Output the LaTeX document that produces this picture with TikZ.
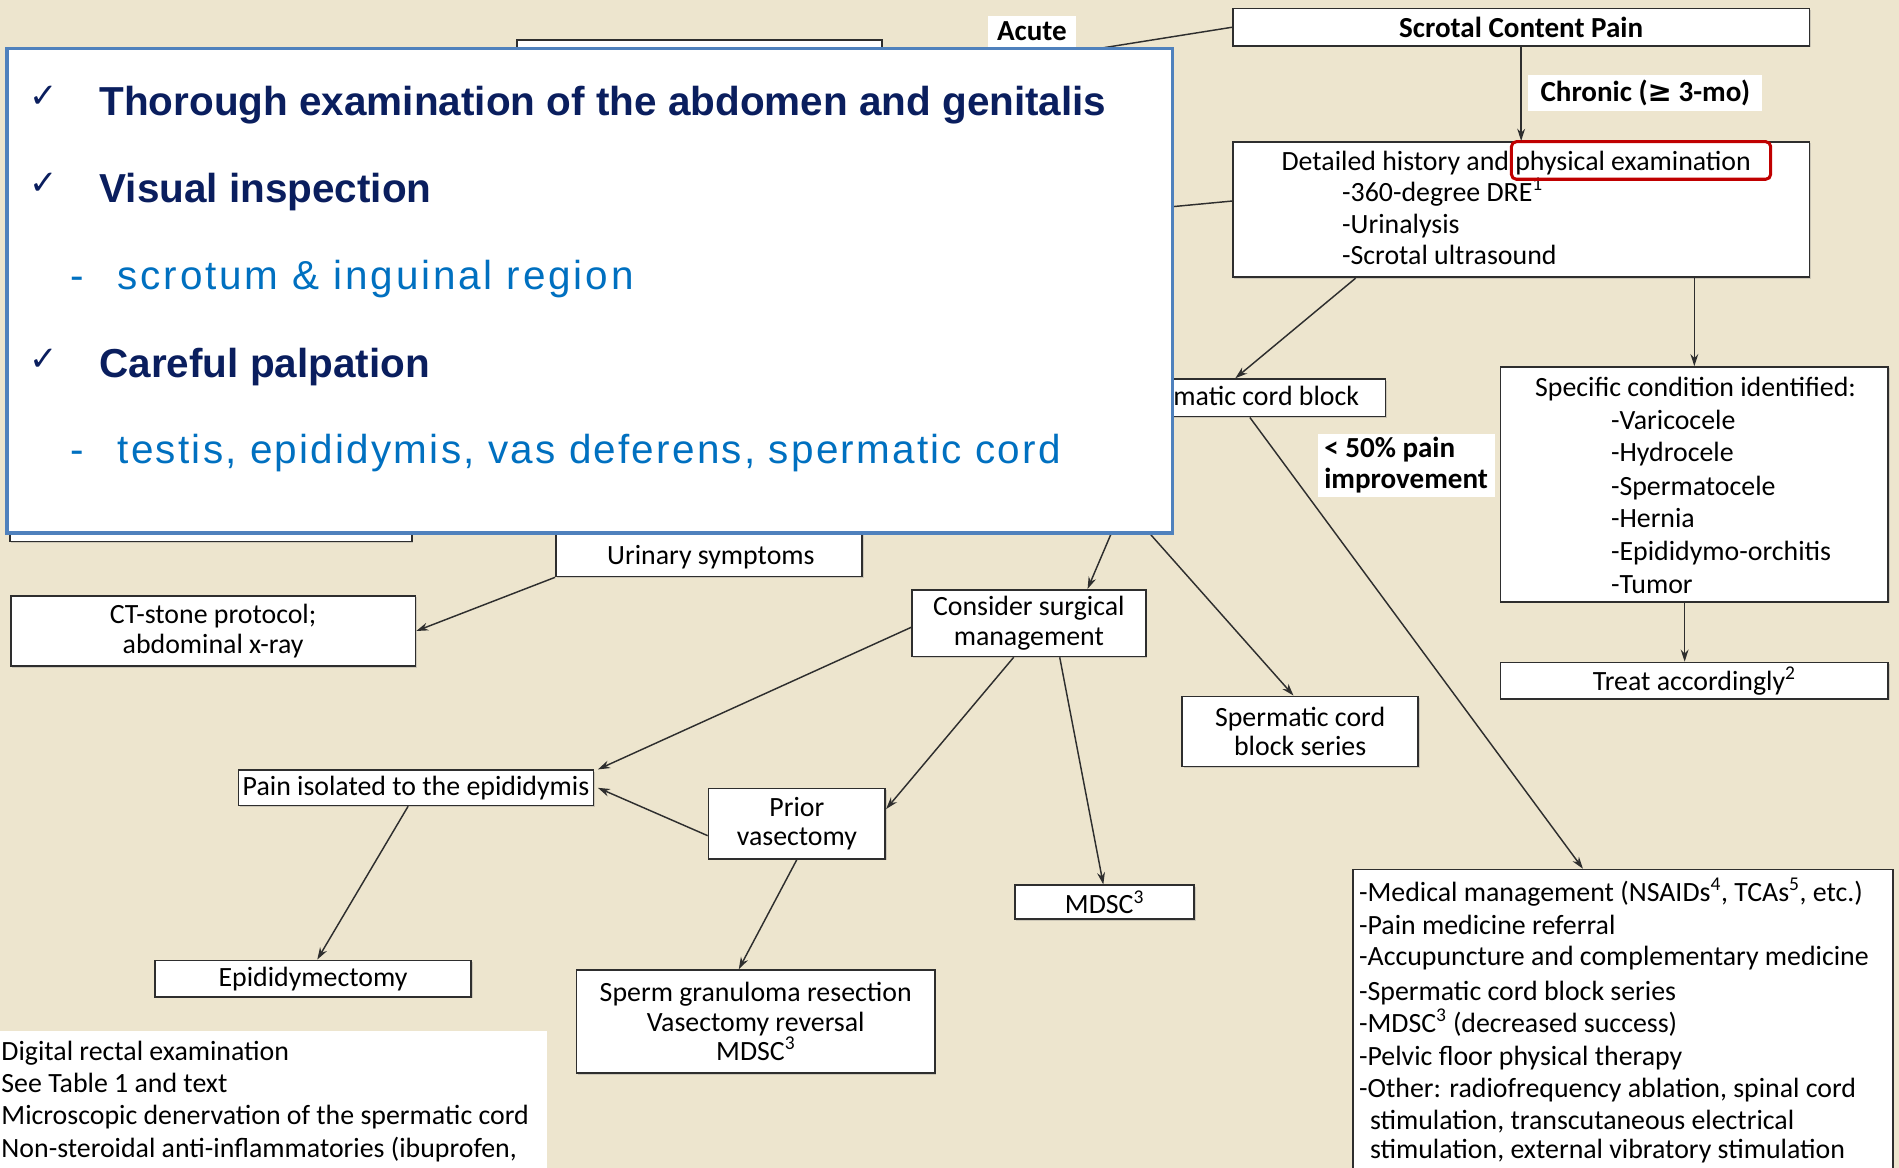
\documentclass[tikz,border=0pt]{standalone}
\usepackage{fontspec}
\setmainfont{Carlito}
\newfontfamily\ovfont{Liberation Sans}
\newfontfamily\ovwide[LetterSpace=7]{Liberation Sans}
\newfontfamily\ovspaced[LetterSpace=5.5]{Liberation Sans}
\newfontfamily\symfont{DejaVu Sans}
\usetikzlibrary{arrows.meta,shadows}
\definecolor{paper}{HTML}{EDE5CE}
\definecolor{edge}{HTML}{2E2E2E}
\definecolor{navy}{HTML}{0A1E5E}
\definecolor{bluetext}{HTML}{0070C0}
\definecolor{frameblue}{HTML}{4F81BD}
\definecolor{markred}{HTML}{C00000}
\newcommand\flowfont{\fontsize{23}{24.5}\selectfont}
\newcommand\tagfont{\fontsize{24}{25}\selectfont\bfseries}
\newcommand\ovbig{\fontsize{33.4}{38}\selectfont}

\begin{document}
\begin{tikzpicture}[x=1pt,y=-1pt,
  box/.style={draw=edge, line width=1.4pt, fill=white, inner sep=0pt, align=center,
    font=\flowfont, drop shadow={shadow xshift=1.2pt, shadow yshift=-1.2pt, opacity=0.3}},
  txt/.style={anchor=mid west, yshift=-6pt, inner sep=0pt, font=\flowfont},
  ctxt/.style={anchor=mid, yshift=-6pt, inner sep=0pt, font=\flowfont},
  tag/.style={fill=white, inner sep=0pt, font=\tagfont},
  arr/.style={draw=edge, line width=1.2pt, -{Stealth[length=10pt,width=6.5pt]}},
  lin/.style={draw=edge, line width=1.2pt},
  chk/.style={anchor=center, inner sep=0pt, text=navy, font=\symfont\fontsize{28}{30}\selectfont},
  ovhead/.style={anchor=base west, inner sep=0pt, text=navy, font=\ovfont\ovbig\bfseries},
  ovsub/.style={anchor=base west, inner sep=0pt, text=bluetext, font=\ovspaced\ovbig},
]
\fill[paper] (0,0) rectangle (1568,964);
\useasboundingbox (0,0) rectangle (1568,964);

% boxes lying under the summary panel
\node[box, minimum width=301pt, minimum height=57pt] (hidtop) at (577.5,61.5) {};
\node[box, minimum width=332pt, minimum height=52pt] (hidleft) at (174,421) {};
\coordinate (hidmid) at (700,196);
\coordinate (hidA) at (922,430);
\coordinate (hidB) at (940,430);

% main flow
\node[box, font=\tagfont, minimum width=476pt, minimum height=31pt] (scp) at (1256,22.5) {Scrotal Content Pain};
\node[box, minimum width=476pt, minimum height=112pt] (det) at (1256,173) {};
\node[txt] (det1) at (1058,132) {Detailed history and physical examination};
\node[txt] (det2) at (1108,158) {-360-degree DRE\textsuperscript{1}};
\node[txt] (det3) at (1108,184) {-Urinalysis};
\node[txt] (det4) at (1108,210) {-Scrotal ultrasound};
\node[draw=markred, line width=2.5pt, rounded corners=4pt, minimum width=214pt,
  minimum height=31pt, inner sep=0pt] (pex) at (1355,132.5) {};

\node[box, minimum width=239pt, minimum height=31pt] (scb) at (1024.5,328.5) {Spermatic cord block};

\node[box, minimum width=320pt, minimum height=194pt] (spec) at (1399,400) {};
\node[ctxt] (spec0) at (1400,319) {Specific condition identified:};
\node[txt] (spec1) at (1330,346) {-Varicocele};
\node[txt] (spec2) at (1330,373) {-Hydrocele};
\node[txt] (spec3) at (1330,401) {-Spermatocele};
\node[txt] (spec4) at (1330,427) {-Hernia};
\node[txt] (spec5) at (1330,454) {-Epididymo-orchitis};
\node[txt] (spec6) at (1330,482) {-Tumor};
\node[box, minimum width=320pt, minimum height=30pt] (treat) at (1399,562) {Treat accordingly\textsuperscript{2}};

\node[box, minimum width=446pt, minimum height=290pt] (med) at (1340,863) {};
\node[txt] (med1) at (1122,736) {-Medical management (NSAIDs\textsuperscript{4}, TCAs\textsuperscript{5}, etc.)};
\node[txt] (med2) at (1122,763) {-Pain medicine referral};
\node[txt] (med3) at (1122,789) {-Accupuncture and complementary medicine};
\node[txt] (med4) at (1122,818) {-Spermatic cord block series};
\node[txt] (med5) at (1122,844) {-MDSC\textsuperscript{3} (decreased success)};
\node[txt] (med6) at (1122,871) {-Pelvic floor physical therapy};
\node[txt] (med7) at (1122,898) {-Other: radiofrequency ablation, spinal cord};
\node[txt] (med8) at (1131,924) {stimulation, transcutaneous electrical};
\node[txt] (med9) at (1131,948) {stimulation, external vibratory stimulation};

\node[box, minimum width=253pt, minimum height=71pt] (urin) at (585.5,440.5) {};
\node[ctxt] (urint) at (587,458) {Urinary symptoms};
\node[box, minimum width=334pt, minimum height=58pt] (ct) at (176,521) {CT-stone protocol;\\abdominal x-ray};
\node[box, minimum width=193pt, minimum height=55pt] (cons) at (849.5,514.5) {Consider surgical\\management};
\node[box, minimum width=195pt, minimum height=58pt] (scbs) at (1073.5,604) {Spermatic cord\\block series};
\node[box, minimum width=293pt, minimum height=29pt] (pain) at (343.5,650.5) {Pain isolated to the epididymis};
\node[box, minimum width=146pt, minimum height=58pt] (prior) at (658,680) {Prior\\vasectomy};
\node[box, minimum width=261pt, minimum height=30pt] (epi) at (258.5,808) {Epididymectomy};
\node[box, minimum width=296pt, minimum height=85pt] (sgr) at (624,843.5) {Sperm granuloma resection\\Vasectomy reversal\\MDSC\textsuperscript{3}};
\node[box, minimum width=148pt, minimum height=28pt] (mdsc) at (912,745) {MDSC\textsuperscript{3}};

% footnotes
\node[fill=white, inner sep=0pt, minimum width=452pt, minimum height=120pt] (foot) at (226,911) {};
\node[txt] (fn1) at (1,867) {Digital rectal examination};
\node[txt] (fn2) at (1,894) {See Table 1 and text};
\node[txt] (fn3) at (1,920) {Microscopic denervation of the spermatic cord};
\node[txt] (fn4) at (1,947) {Non-steroidal anti-inflammatories (ibuprofen,};

% connectors
\draw[arr] (scp) -- (det);
\draw[lin] (scp.west) -- ([yshift=-7pt]hidtop.east);
\draw[lin] ([yshift=7pt]det.west) -- (hidmid);
\draw[arr] ([xshift=102pt]det.south west) -- ([xshift=-4.5pt]scb.north);
\draw[arr] (det.south -| spec.north) -- (spec.north);
\draw[arr] ([xshift=-8pt]spec.south) -- ([xshift=-8pt]treat.north);
\draw[arr] ([xshift=7.5pt]scb.south) -- ([xshift=-33pt]med.north);
\draw[arr] (hidA) -- ([xshift=48.5pt]cons.north);
\draw[arr] (hidB) -- ([xshift=-5.5pt]scbs.north);
\draw[arr] (urin.south west) -- (ct.east);
\draw[arr] ([yshift=-3.5pt]cons.west) -- ([xshift=3pt]pain.north east);
\draw[arr] ([xshift=-12.5pt]cons.south) -- ([yshift=12pt]prior.east);
\draw[arr] ([xshift=25.5pt]cons.south) -- ([xshift=-1pt]mdsc.north);
\draw[arr] ([yshift=-10pt]prior.west) -- ([xshift=3pt]pain.east);
\draw[arr] ([xshift=-6.5pt]pain.south) -- ([xshift=3.5pt]epi.north);
\draw[arr] (prior.south) -- ([xshift=-14pt]sgr.north);

% branch labels
\node[tag, minimum width=73pt, minimum height=26pt] (acute) at (852,26) {Acute};
\node[tag, minimum width=193pt, minimum height=30pt] (chronic) at (1358.5,77) {Chronic ({\symfont\bfseries ≥} 3-mo)};
\node[tag, minimum width=146pt, minimum height=52pt, align=left] (imp) at (1161,384) {< 50\% pain\\improvement};

% summary panel
\node[draw=frameblue, line width=3pt, fill=white, minimum width=962pt, minimum height=400pt, inner sep=0pt] (ov) at (487,240) {};
\node[chk] (ck1) at (36,80) {✓};
\node[ovhead] (oh1) at (82,95) {Thorough examination of the abdomen and genitalis};
\node[chk] (ck2) at (36,152) {✓};
\node[ovhead] (oh2) at (82,167) {Visual inspection};
\node[ovsub] (od1) at (58,239) {-};
\node[ovsub, font=\ovwide\ovbig] (os1) at (97,239) {scrotum \& inguinal region};
\node[chk] (ck3) at (36,297) {✓};
\node[ovhead] (oh3) at (82,312) {Careful palpation};
\node[ovsub] (od2) at (58,383) {-};
\node[ovsub] (os2) at (97,383) {testis, epididymis, vas deferens, spermatic cord};
\end{tikzpicture}
\end{document}
